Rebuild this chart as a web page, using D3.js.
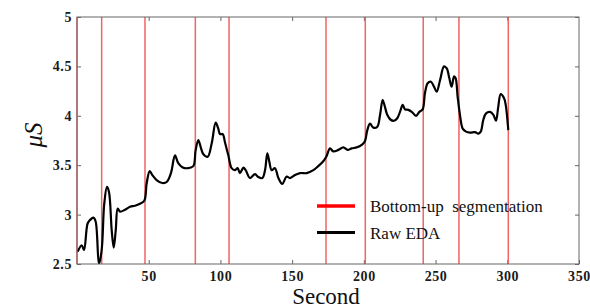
<!DOCTYPE html>
<html>
<head>
<meta charset="utf-8">
<script src="https://cdn.jsdelivr.net/npm/d3@7"></script>
<style>
  html, body { margin: 0; padding: 0; background: #fff; }
  svg { display: block; }
  text { font-family: "Liberation Serif", "Times New Roman", serif; }
</style>
</head>
<body>
<svg id="chart" width="590" height="308"></svg>
<script>
// ---- data ----
const seconds = [0.5, 3.3, 4.9, 7.4, 9.1, 11.4, 13, 15.3, 17.2, 19, 20.9, 22.3, 24.2, 25.6, 27, 28.4, 30,
  33.5, 37, 40.4, 43.9, 46.9, 48.6, 50.7, 52.5, 55.5, 59.5, 62.5, 65.5, 68.3, 70.6, 73.4, 77.6, 81.1,
  82.7, 84.6, 86.5, 88.1, 91.1, 93.9, 96.7, 98.5, 99.7, 101.6, 103.2, 105.5, 107.8, 110.2, 112, 113.6,
  116, 117.6, 120.6, 124.1, 126.4, 129.2, 131.1, 132.7, 134.1, 135.7, 138, 140.4, 143.1, 146.2, 148.5,
  152, 155.5, 160.2, 164.8, 168.2, 171.7, 173.8, 176.4, 178.7, 182.2, 185.7, 188.7, 191.5, 195, 198.5,
  200.8, 202.4, 204.3, 206.6, 209.4, 211.3, 213.1, 214.7, 216.3, 218.7, 221, 223.3, 225.2, 227.1, 228.7,
  231, 233.4, 236.4, 238.7, 241, 242.6, 244.5, 246.8, 248.9, 250.8, 253.1, 255.9, 257.8, 259.6, 261.2,
  262.9, 264, 265.4, 267, 268.9, 271.2, 274, 277.5, 279.8, 281.5, 283.3, 285.2, 288, 290.3, 292.1, 293.7,
  295.4, 297.7, 298.9, 300.7];
const eda = [2.625, 2.69, 2.64, 2.91, 2.945, 2.97, 2.93, 2.5, 2.64, 3.11, 3.28, 3.23, 2.84, 2.665, 2.84, 3.06, 3.03,
  3.05, 3.08, 3.09, 3.11, 3.14, 3.32, 3.44, 3.40, 3.35, 3.32, 3.33, 3.42, 3.60, 3.52, 3.48, 3.47, 3.49,
  3.65, 3.755, 3.67, 3.61, 3.585, 3.72, 3.93, 3.87, 3.815, 3.815, 3.73, 3.60, 3.47, 3.45, 3.47, 3.42,
  3.475, 3.45, 3.37, 3.41, 3.38, 3.37, 3.45, 3.62, 3.535, 3.45, 3.47, 3.37, 3.31, 3.385, 3.37,
  3.40, 3.42, 3.42, 3.45, 3.49, 3.54, 3.585, 3.67, 3.64, 3.655, 3.68, 3.655, 3.67, 3.68, 3.705,
  3.745, 3.855, 3.92, 3.88, 3.89, 4.01, 4.16, 4.09, 4.01, 3.96, 3.95, 3.975, 4.04, 4.11, 4.065,
  4.06, 4.04, 4.00, 4.04, 4.065, 4.23, 4.33, 4.345, 4.295, 4.245, 4.36, 4.50, 4.48, 4.38, 4.295,
  4.40, 4.38, 4.19, 4.01, 3.87, 3.84, 3.83, 3.835, 3.82, 3.84, 3.96, 4.025, 4.04, 4.01, 3.95, 4.09,
  4.22, 4.18, 4.11, 3.855];
const segments = [0, 17.2, 47.4, 82.5, 106, 173.6, 201, 241.4, 266.3, 300.7];
const xTicks = [50, 100, 150, 200, 250, 300, 350];
const yTicks = [2.5, 3, 3.5, 4, 4.5, 5];
const legendLabels = ["Bottom-up  segmentation", "Raw EDA"];

// ---- layout ----
const L = 77, R = 579, T = 17, B = 264;
const serif = '"Liberation Serif", "Times New Roman", serif';
const svg = d3.select("#chart");
const x = d3.scaleLinear().domain([0, 350]).range([L, R]);
const y = d3.scaleLinear().domain([2.5, 5]).range([B, T]);

svg.append("defs").append("clipPath").attr("id", "clip")
  .append("rect").attr("x", L).attr("y", T).attr("width", R - L).attr("height", B - T);

// axes
const axisColor = "#666";
function styleAxis(g, labels) {
  g.attr("font-family", serif);
  g.select(".domain").remove();
  g.selectAll(".tick line").attr("stroke", axisColor).attr("stroke-width", 1);
  if (labels) {
    g.selectAll(".tick text").attr("fill", "#1a1a1a")
      .style("font-family", serif)
      .style("font-size", "14px").style("font-weight", "bold").style("letter-spacing", "0.6px");
  } else {
    g.selectAll(".tick text").remove();
  }
}
svg.append("g").attr("transform", `translate(0,${B})`)
  .call(d3.axisBottom(x).tickValues(xTicks).tickSize(-4).tickSizeOuter(0).tickPadding(7))
  .call(g => styleAxis(g, true));
svg.append("g").attr("transform", `translate(0,${T})`)
  .call(d3.axisTop(x).tickValues(xTicks.slice(0, -1)).tickSize(-4).tickSizeOuter(0))
  .call(g => styleAxis(g, false));
svg.append("g").attr("transform", `translate(${L},0)`)
  .call(d3.axisLeft(y).tickValues(yTicks).tickSize(-4).tickSizeOuter(0).tickPadding(5).tickFormat(d3.format("")))
  .call(g => styleAxis(g, true));
svg.append("g").attr("transform", `translate(${R},0)`)
  .call(d3.axisRight(y).tickValues(yTicks).tickSize(-4).tickSizeOuter(0))
  .call(g => styleAxis(g, false));

// segmentation lines
svg.append("g").selectAll("line").data(segments).join("line")
  .attr("x1", d => x(d)).attr("x2", d => x(d))
  .attr("y1", T).attr("y2", B)
  .attr("stroke", "#f06464").attr("stroke-width", 1.5);

// EDA line
const pts = seconds.map((s, i) => [s, eda[i]]);
svg.append("path").datum(pts)
  .attr("clip-path", "url(#clip)")
  .attr("fill", "none").attr("stroke", "#000").attr("stroke-width", 2.2)
  .attr("stroke-linejoin", "round")
  .attr("d", d3.line().x(d => x(d[0])).y(d => y(d[1])).curve(d3.curveCatmullRom.alpha(0.5)));

// frame
svg.append("rect").attr("x", L).attr("y", T).attr("width", R - L).attr("height", B - T)
  .attr("fill", "none").attr("stroke", axisColor).attr("stroke-width", 1);

// axis titles
svg.append("text").attr("x", 326).attr("y", 304).attr("text-anchor", "middle")
  .style("font-size", "23px").attr("fill", "#111").text("Second");
svg.append("text").attr("transform", "translate(42,135) rotate(-90)").attr("text-anchor", "middle")
  .style("font-size", "25px").style("font-style", "italic").attr("fill", "#111").text("μS");

// legend
const legColors = ["#ff0000", "#000000"];
const legY = [206, 232.5];
const leg = svg.append("g");
legendLabels.forEach((lab, i) => {
  leg.append("line").attr("x1", 317).attr("x2", 355).attr("y1", legY[i]).attr("y2", legY[i])
    .attr("stroke", legColors[i]).attr("stroke-width", i === 0 ? 3.5 : 3);
  leg.append("text").attr("x", 370).attr("y", legY[i] + 6).style("font-size", "17px")
    .style("white-space", "pre").attr("fill", "#111").text(lab);
});
</script>
</body>
</html>
